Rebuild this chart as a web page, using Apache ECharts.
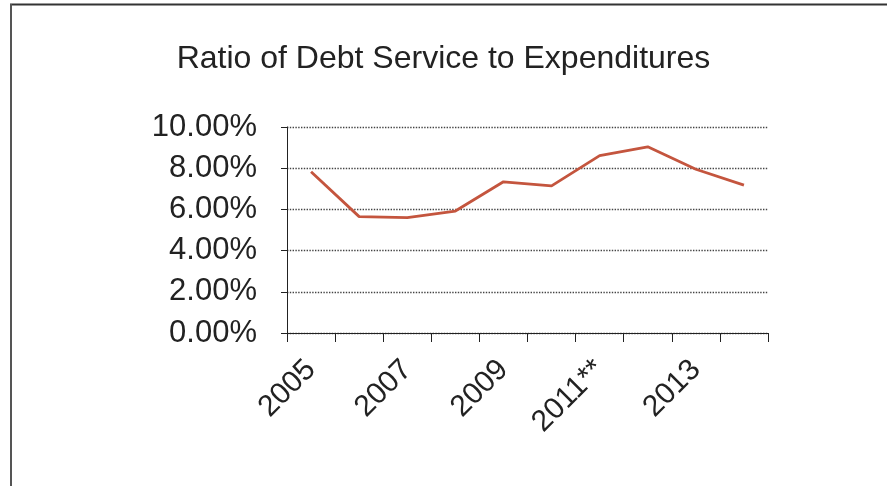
<!DOCTYPE html>
<html>
<head>
<meta charset="utf-8">
<script src="https://cdn.jsdelivr.net/npm/echarts@6/dist/echarts.min.js"></script>
<style>
  html, body { margin: 0; padding: 0; background: #fff; }
  #myChart { width: 887px; height: 486px; }
</style>
</head>
<body>
<div id="myChart"></div>
<script>
  // 年份（x轴）
  var years = ['2005', '2006', '2007', '2008', '2009', '2010', '2011**', '2012', '2013', '2014'];
  // 债务偿还占支出比例 (%)
  var ratio = [7.83, 5.65, 5.60, 5.92, 7.34, 7.14, 8.61, 9.04, 7.95, 7.18];
  // y轴刻度
  var yMin = 0, yMax = 10, yStep = 2;

  var font = 'Liberation Sans, Arial, sans-serif';

  var option = {
    animation: false,
    backgroundColor: '#fff',
    title: {
      text: 'Ratio of Debt Service to Expenditures',
      left: 'center',
      top: 38,
      textStyle: { fontFamily: font, fontSize: 32, fontWeight: 'normal', color: '#222' }
    },
    grid: { left: 287, right: 119, top: 127, bottom: 153 },
    xAxis: {
      type: 'category',
      data: years,
      boundaryGap: true,
      axisLine: { lineStyle: { color: '#222', width: 1 } },
      axisTick: { show: true, length: 9, interval: 0, lineStyle: { color: '#222' } },
      axisLabel: {
        interval: 1,
        rotate: 45,
        margin: 32,
        fontFamily: font,
        fontSize: 30,
        color: '#222'
      }
    },
    yAxis: {
      type: 'value',
      min: yMin,
      max: yMax,
      interval: yStep,
      axisLine: { show: true, lineStyle: { color: '#222', width: 1 } },
      axisTick: { show: true, length: 6, lineStyle: { color: '#222' } },
      axisLabel: {
        margin: 30,
        fontFamily: font,
        fontSize: 31,
        color: '#222',
        formatter: function (v) { return v.toFixed(2) + '%'; }
      },
      splitLine: { show: true, lineStyle: { color: '#444', type: 'dotted', width: 1.4 } }
    },
    series: [{
      name: 'Ratio',
      type: 'line',
      data: ratio,
      symbol: 'none',
      lineStyle: { color: '#c4553e', width: 2.8 }
    }],
    // 外框线
    graphic: [
      { type: 'line', shape: { x1: 10, y1: 4.5, x2: 887, y2: 4.5 }, style: { stroke: '#333', lineWidth: 2 } },
      { type: 'line', shape: { x1: 11, y1: 4, x2: 11, y2: 486 }, style: { stroke: '#555', lineWidth: 2 } }
    ]
  };

  var myChart = echarts.init(document.getElementById('myChart'));
  myChart.setOption(option);
</script>
</body>
</html>
